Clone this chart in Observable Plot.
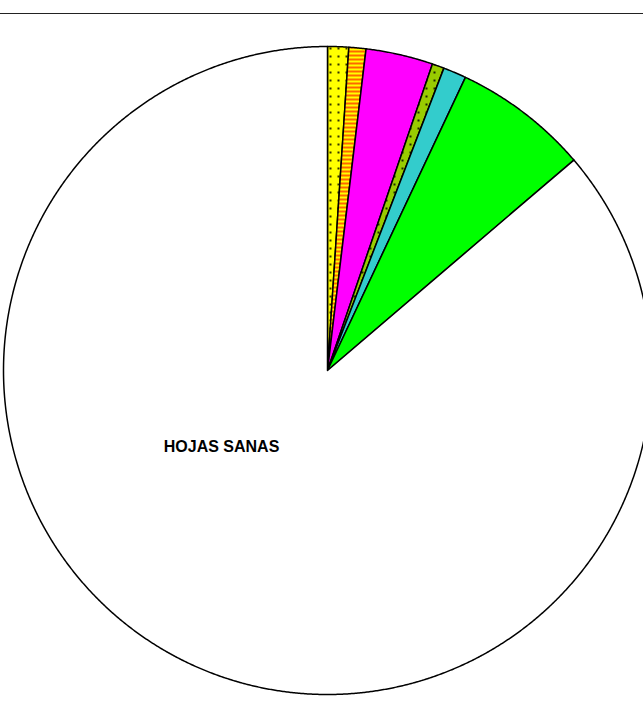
<!DOCTYPE html>
<html><head><meta charset="utf-8">
<script src="https://cdn.jsdelivr.net/npm/d3@7"></script>
<script src="https://cdn.jsdelivr.net/npm/@observablehq/plot@0.6"></script>
<style>
body{margin:0;background:#fff;font-family:"Liberation Sans",Arial,sans-serif;overflow:hidden}
#top{height:13px;border-bottom:1.4px solid #222;}
#chart svg{display:block}
</style></head>
<body><div id="top"></div><div id="chart"></div>
<script>
// ---- data (percent shares) ----
const categories = ["Categoría 1", "Categoría 2", "Categoría 3", "Categoría 4", "Categoría 5", "Categoría 6", "HOJAS SANAS"];
const values = [1.05, 0.85, 3.35, 0.6, 1.15, 6.75, 86.25];
const labels = ["", "", "", "", "", "", "HOJAS SANAS"];
const fills = ["url(#pYellowDots)", "url(#pStripes)", "#FF00FF", "url(#pGreenDots)", "#33CCCC", "#00FF00", "#FFFFFF"];

// ---- layout ----
const W = 643, H = 701, R = 324, CX = 327, CY = 356;
const labelPos = {x: -0.327, y: -0.235};

const arcs = d3.pie().sort(null).value(d => d)(values);
const slices = arcs.map((p, i) => {
  const pts = [{x: 0, y: 0}];
  const n = Math.max(2, Math.ceil((p.endAngle - p.startAngle) / 0.004));
  for (let k = 0; k <= n; k++) {
    const a = p.startAngle + (p.endAngle - p.startAngle) * k / n;
    pts.push({x: Math.sin(a), y: Math.cos(a)});
  }
  pts.push({x: 0, y: 0});
  return {i, name: categories[i], fill: fills[i], pts};
});

function defsMark() {
  const defs = d3.create("svg:defs");
  const p1 = defs.append("pattern").attr("id", "pYellowDots").attr("patternUnits", "userSpaceOnUse").attr("width", 8).attr("height", 8);
  p1.append("rect").attr("width", 8).attr("height", 8).attr("fill", "#FFFF00");
  p1.append("circle").attr("cx", 2).attr("cy", 2).attr("r", 1.1).attr("fill", "#000");
  const p2 = defs.append("pattern").attr("id", "pStripes").attr("patternUnits", "userSpaceOnUse").attr("width", 4).attr("height", 4);
  p2.append("rect").attr("width", 4).attr("height", 4).attr("fill", "#FFFF00");
  p2.append("rect").attr("width", 4).attr("height", 2).attr("fill", "#FF6600");
  const p3 = defs.append("pattern").attr("id", "pGreenDots").attr("patternUnits", "userSpaceOnUse").attr("width", 8).attr("height", 8);
  p3.append("rect").attr("width", 8).attr("height", 8).attr("fill", "#99CC00");
  p3.append("circle").attr("cx", 2).attr("cy", 2).attr("r", 1.1).attr("fill", "#000");
  return defs.node();
}

const marks = [defsMark];
for (const s of slices) {
  marks.push(Plot.line(s.pts, {x: "x", y: "y", fill: s.fill, stroke: "black", strokeWidth: 1.5, curve: "linear-closed"}));
}
marks.push(Plot.text([labels[6]], {x: () => labelPos.x, y: () => labelPos.y, text: d => d,
  fontSize: 16, fontWeight: "bold", fill: "black", fontFamily: "Liberation Sans, Arial, sans-serif"}));

const chart = Plot.plot({
  width: W, height: H,
  margin: 0,
  x: {domain: [-CX / R, (W - CX) / R], axis: null},
  y: {domain: [(CY - H) / R, CY / R], axis: null},
  style: {background: "white", overflow: "hidden"},
  marks
});
document.getElementById("chart").append(chart);
</script>
</body></html>
